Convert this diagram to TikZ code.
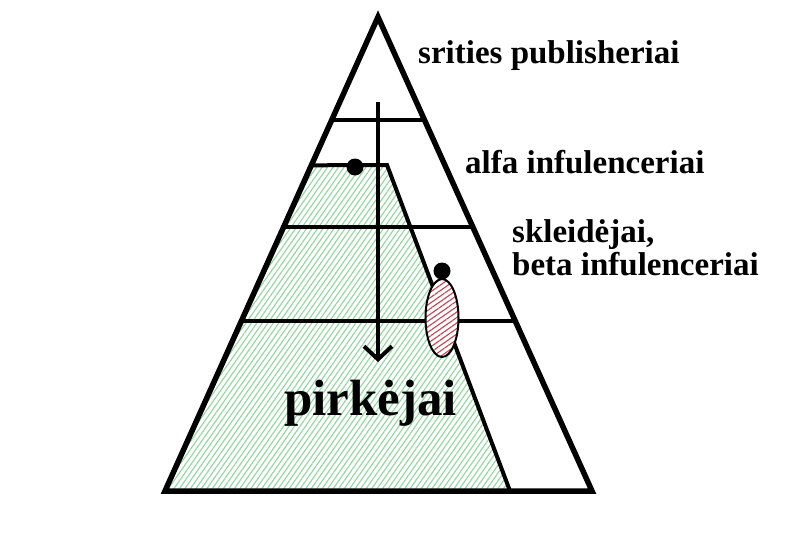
\documentclass[tikz,border=0pt]{standalone}
\usepackage{fontspec}
\setmainfont{Liberation Serif}
\usetikzlibrary{arrows.meta,patterns.meta,calc}
\definecolor{pirGreen}{HTML}{8ED79A}
\definecolor{pirRed}{HTML}{C9404C}
\tikzset{
  pir edge/.style={draw=black, line width=5.5pt, line join=miter},
  pir level/.style={draw=black, line width=4pt},
  pir buyers/.style={pattern={Lines[angle=55, distance=4.5pt, line width=1.1pt]}, pattern color=pirGreen},
  pir spread/.style={preaction={fill=white}, pattern={Lines[angle=35, distance=4.5pt, line width=1.1pt]}, pattern color=pirRed, draw=black, line width=2pt},
  pir dot/.style={fill=black},
  pir label/.style={font=\fontsize{33}{33}\selectfont\bfseries, anchor=base west, inner sep=0pt, align=left},
}
\begin{document}
\begin{tikzpicture}[x=1pt, y=-1pt]
  \useasboundingbox (0,0) rectangle (800,533);
  \coordinate (apex) at (378,17);
  \coordinate (bl) at (165,491);
  \coordinate (br) at (592,491);
  \coordinate (buyersTop) at (387,165);
  \coordinate (buyersFoot) at (510,491);
  % Green part: buyers reached
  \path[pir buyers] ($(apex)!0.3129!(bl)$) -- (buyersTop) -- (buyersFoot) -- (bl) -- cycle;
  % Levels
  \foreach \t in {0.2178,0.4440,0.6406}
    \draw[pir level] ($(apex)!\t!(bl)$) -- ($(apex)!\t!(br)$);
  \draw[pir level, line join=miter] ($(apex)!0.3129!(bl)$) -- (buyersTop) -- (buyersFoot);
  % Outline
  \draw[pir edge] (apex) -- (br) -- (bl) -- cycle;
  % Flow down to the buyers
  \coordinate (flowTop) at (378,102);
  \coordinate (flowEnd) at (378,362);
  \draw[line width=4pt, -{Straight Barb[length=13pt, width=28pt]}] (flowTop) -- (flowEnd);
  % Spreaders
  \draw[pir spread] (442,318) ellipse (16.5 and 39);
  \fill[pir dot] (355,167) circle (8.5);
  \fill[pir dot] (442,271) circle (8.5);
  % Labels
  \node[pir label] (publishers) at (418,63) {srities publisheriai};
  \node[pir label] (alpha) at (465,173) {alfa infulenceriai};
  \node[pir label] (beta) at (512,275) {skleidėjai,\\beta infulenceriai};
  \node[pir label, font=\fontsize{51}{51}\selectfont\bfseries] (buyers) at (284,415) {pirkėjai};
\end{tikzpicture}
\end{document}
